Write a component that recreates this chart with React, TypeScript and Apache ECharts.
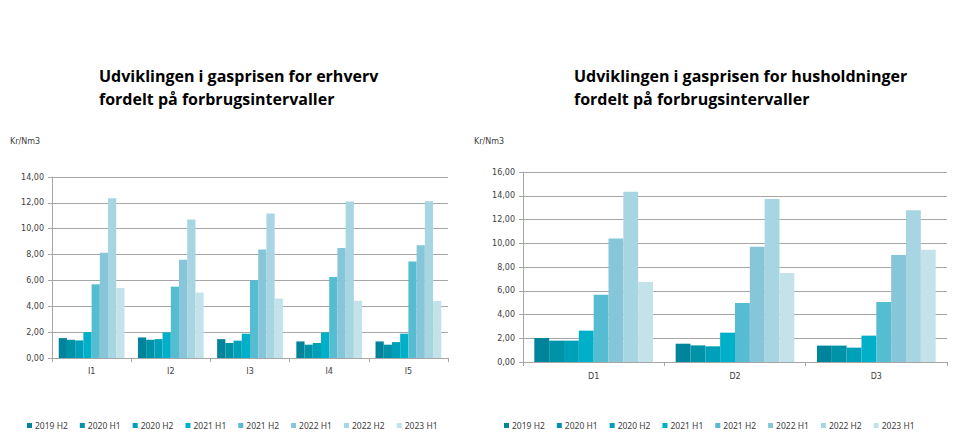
import React, { useEffect, useRef } from "react";
import * as echarts from "echarts";

const seriesNames = ["2019 H2", "2020 H1", "2020 H2", "2021 H1", "2021 H2", "2022 H1", "2022 H2", "2023 H1"];
const colors = ["#00849b", "#0093a8", "#00a0b8", "#00afc8", "#55bcd2", "#86c6d8", "#a8d5e2", "#c3e2ea"];

const erhvervCategories = ["I1", "I2", "I3", "I4", "I5"];
// values per series (rows) across I1..I5
const erhvervValues = [
  [1.54, 1.59, 1.46, 1.28, 1.28],
  [1.41, 1.41, 1.16, 1.03, 1.03],
  [1.36, 1.46, 1.34, 1.16, 1.23],
  [2.0, 1.98, 1.88, 1.98, 1.88],
  [5.7, 5.52, 6.01, 6.27, 7.47],
  [8.14, 7.6, 8.4, 8.5, 8.73],
  [12.36, 10.71, 11.17, 12.1, 12.12],
  [5.42, 5.06, 4.6, 4.42, 4.42],
];

const husCategories = ["D1", "D2", "D3"];
const husValues = [
  [2.02, 1.54, 1.38],
  [1.8, 1.4, 1.38],
  [1.8, 1.32, 1.21],
  [2.64, 2.47, 2.22],
  [5.67, 4.97, 5.05],
  [10.39, 9.71, 9.01],
  [14.34, 13.73, 12.77],
  [6.74, 7.49, 9.46],
];

const titleLeft = "Udviklingen i gasprisen for erhverv\nfordelt på forbrugsintervaller";
const titleRight = "Udviklingen i gasprisen for husholdninger\nfordelt på forbrugsintervaller";
const unitLabel = "Kr/Nm3";

const fmt = (v: number) => v.toFixed(2).replace(".", ",");

export default function App() {
  const ref = useRef<HTMLDivElement>(null);
  useEffect(() => {
    document.body.style.margin = "0";
    const chart = echarts.init(ref.current!, undefined, { renderer: "svg" });
    const axisFont = { fontFamily: "DejaVu Sans", fontSize: 8, color: "#404040" };
    const mkY = (gridIndex: number, max: number) => ({
      type: "value" as const,
      gridIndex,
      min: 0,
      max,
      interval: 2,
      axisLine: { show: true, lineStyle: { color: "#a6a6a6" } },
      axisTick: { show: true, length: 4, lineStyle: { color: "#a6a6a6" } },
      splitLine: { lineStyle: { color: "#a6a6a6", width: 1.2 } },
      axisLabel: { ...axisFont, formatter: fmt, margin: 8 },
    });
    const mkX = (gridIndex: number, data: string[], margin: number) => ({
      type: "category" as const,
      gridIndex,
      data,
      axisLine: { lineStyle: { color: "#a6a6a6" } },
      axisTick: { show: true, length: 4, lineStyle: { color: "#a6a6a6" } },
      axisLabel: { ...axisFont, margin },
    });
    const series: any[] = [];
    seriesNames.forEach((name, i) => {
      series.push({
        type: "bar",
        name,
        xAxisIndex: 0,
        yAxisIndex: 0,
        data: erhvervValues[i],
        itemStyle: { color: colors[i] },
        barGap: "0%",
        barCategoryGap: "17%",
      });
    });
    seriesNames.forEach((name, i) => {
      series.push({
        type: "bar",
        name,
        xAxisIndex: 1,
        yAxisIndex: 1,
        data: husValues[i],
        itemStyle: { color: colors[i] },
        barGap: "0%",
        barCategoryGap: "16%",
      });
    });
    const legendCommon = {
      data: seriesNames,
      top: 416,
      itemWidth: 5,
      itemHeight: 5,
      itemGap: 12,
      icon: "rect",
      textStyle: { fontFamily: "Noto Sans", fontSize: 8.5, color: "#404040", padding: [0, 0, 0, -2] },
      selectedMode: false,
    };
    const titleStyle = { fontFamily: "Open Sans", fontWeight: "bold", fontSize: 16, lineHeight: 23, color: "#000" };
    chart.setOption({
      animation: false,
      backgroundColor: "#ffffff",
      title: [
        { text: titleLeft, left: 94, top: 59, textStyle: titleStyle },
        { text: titleRight, left: 569, top: 59, textStyle: titleStyle },
      ],
      graphic: [
        { type: "text", left: 10, top: 137, style: { text: unitLabel, fontFamily: "DejaVu Sans", fontSize: 8, fill: "#404040" } },
        { type: "text", left: 474, top: 137, style: { text: unitLabel, fontFamily: "DejaVu Sans", fontSize: 8, fill: "#404040" } },
      ],
      legend: [
        { ...legendCommon, left: 22 },
        { ...legendCommon, left: 499 },
      ],
      grid: [
        { left: 52, top: 177, width: 396, height: 181 },
        { left: 523, top: 172, width: 424, height: 190 },
      ],
      xAxis: [mkX(0, erhvervCategories, 9), mkX(1, husCategories, 10)],
      yAxis: [mkY(0, 14), mkY(1, 16)],
      series,
    });
    return () => chart.dispose();
  }, []);
  return <div ref={ref} style={{ position: "absolute", left: 0, top: 0, width: 960, height: 448 }} />;
}
